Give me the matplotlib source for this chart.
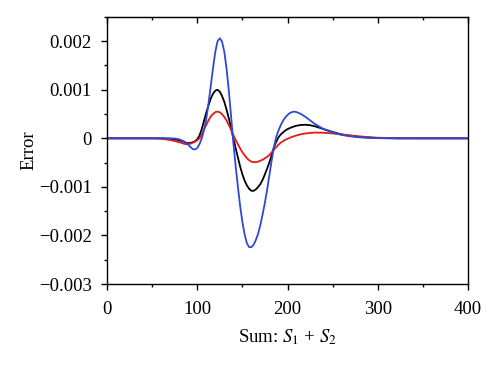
import numpy as np
import matplotlib
matplotlib.use("Agg")
import matplotlib.pyplot as plt
from matplotlib.ticker import MultipleLocator, FuncFormatter

# sample positions along the sum axis S1 + S2
sum_s = [0, 40, 50, 55, 60, 65, 70, 75, 80, 85,
         87.5, 90, 92.5, 95, 97.5, 100, 102.5, 105, 107.5, 110,
         112.5, 115, 117.5, 120, 122.5, 125, 127.5, 130, 132.5, 135,
         137.5, 140, 142.5, 145, 147.5, 150, 152.5, 155, 157.5, 160,
         162.5, 165, 167.5, 170, 172.5, 175, 177.5, 180, 182.5, 185,
         187.5, 190, 192.5, 195, 197.5, 200, 202.5, 205, 207.5, 210,
         215, 220, 225, 230, 240, 250, 260, 270, 280, 290,
         300, 320, 350, 400]

err_black = [0, 0, 0, 0, 0, -0.000005, -0.00001, -0.00002, -0.00004, -0.00007,
             -0.00009, -0.0001, -0.000095, -0.00008, -0.00006, -0.00002, 0.00006, 0.00019, 0.00036, 0.00053,
             0.00068, 0.00082, 0.00092, 0.00098, 0.001, 0.00096, 0.00087, 0.00075, 0.00059, 0.00041,
             0.00021, 0.0, -0.0002, -0.00039, -0.00058, -0.00074, -0.00087, -0.00097, -0.00104, -0.00108,
             -0.00108, -0.00105, -0.001, -0.00094, -0.00085, -0.00074, -0.00062, -0.00049, -0.00034, -0.00018,
             -0.00007, 0.00002, 0.00008, 0.00012, 0.00016, 0.00019, 0.00021, 0.00023, 0.000245, 0.00026,
             0.000275, 0.00028, 0.00027, 0.00025, 0.00019, 0.00013, 0.00008, 0.00005, 0.00003, 0.000015,
             0.000006, 0, 0, 0]

err_red = [0, 0, 0, -0.000002, -0.000008, -0.00002, -0.000035, -0.000055, -0.00008, -0.00011,
           -0.00012, -0.00012, -0.00011, -0.00009, -0.00007, -0.00004, 0.0, 0.00008, 0.00018, 0.00028,
           0.00037, 0.00045, 0.0005, 0.00054, 0.00055, 0.000535, 0.000497, 0.00044, 0.000365, 0.000275,
           0.000175, 0.000067, -0.000036, -0.00012, -0.000207, -0.000286, -0.00035, -0.00041, -0.00045, -0.00048,
           -0.00049, -0.00049, -0.00048, -0.00046, -0.00044, -0.00041, -0.00038, -0.00034, -0.00029, -0.000235,
           -0.00018, -0.00013, -0.00009, -0.00006, -0.00003, -0.00001, 0.00001, 0.00003, 0.000045, 0.00006,
           0.000085, 0.0001, 0.00011, 0.000118, 0.000115, 0.0001, 0.00008, 0.00006, 0.00004, 0.000025,
           0.000012, 0.000003, 0, 0]

err_blue = [0, 0, 0, 0, 0, 0, 0, -0.000005, -0.00002, -0.00006,
            -0.00009, -0.00013, -0.00018, -0.00022, -0.00023, -0.0002, -0.00012, 0.0, 0.00017, 0.0004,
            0.00072, 0.00108, 0.00145, 0.00178, 0.002, 0.00206, 0.00199, 0.00178, 0.00143, 0.00098,
            0.00045, -0.00009, -0.00056, -0.00099, -0.00139, -0.00172, -0.00198, -0.00216, -0.00224, -0.00224,
            -0.00219, -0.00209, -0.00196, -0.00178, -0.00156, -0.00132, -0.00105, -0.00075, -0.00045, -0.00018,
            0.00003, 0.00016, 0.00027, 0.00036, 0.00043, 0.00048, 0.00052, 0.00054, 0.00055, 0.00054,
            0.0005, 0.00044, 0.00037, 0.0003, 0.00019, 0.00012, 0.00007, 0.00004, 0.00002, 0.00001,
            0.000004, 0, 0, 0]

x_ticks = [0, 100, 200, 300, 400]
y_ticks = [-0.003, -0.002, -0.001, 0, 0.001, 0.002]

plt.rcParams["font.family"] = ["Liberation Serif", "DejaVu Serif"]
plt.rcParams["mathtext.fontset"] = "stix"
plt.rcParams["font.size"] = 13

fig = plt.figure(figsize=(5, 3.67), dpi=100)
ax = fig.add_axes([0.214, 0.226, 0.722, 0.728])

ax.plot(sum_s, err_black, color="black", lw=1.3)
ax.plot(sum_s, err_red, color="#e3191c", lw=1.3)
ax.plot(sum_s, err_blue, color="#2e48d8", lw=1.3)

ax.set_xlim(0, 400)
ax.set_ylim(-0.003, 0.0025)
ax.set_xticks(x_ticks)
ax.set_yticks(y_ticks)
ax.xaxis.set_minor_locator(MultipleLocator(50))
ax.yaxis.set_minor_locator(MultipleLocator(0.0005))
ax.yaxis.set_major_formatter(FuncFormatter(lambda v, _: "0" if abs(v) < 1e-12 else f"{v:.3f}".replace("-", "\u2212")))

ax.tick_params(which="both", direction="out", width=1, labelsize=13.5)
ax.tick_params(which="major", length=4)
ax.tick_params(which="minor", length=2.5)
ax.tick_params(axis="y", pad=7)
ax.tick_params(axis="x", pad=8)

top = ax.secondary_xaxis("top")
top.set_xticks(x_ticks)
top.xaxis.set_minor_locator(MultipleLocator(50))
top.tick_params(which="both", direction="in", labeltop=False, width=1)
top.tick_params(which="major", length=4)
top.tick_params(which="minor", length=2.5)

for s in ax.spines.values():
    s.set_linewidth(1.0)

ax.set_xlabel("Sum: $S_1$ + $S_2$", fontsize=13.5, labelpad=7)
ax.set_ylabel("Error", fontsize=13.5, labelpad=1)

fig.savefig("out.png", dpi=100)
